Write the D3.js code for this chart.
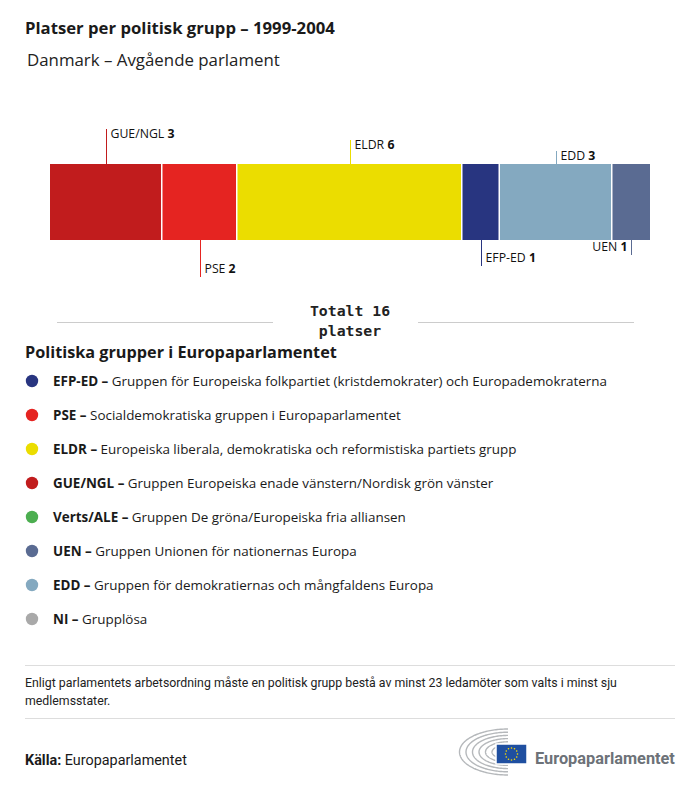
<!DOCTYPE html>
<html><head><meta charset="utf-8">
<script src="https://cdn.jsdelivr.net/npm/d3@7"></script>
<style>
html,body{margin:0;padding:0;background:#fff;}
svg{display:block;font-family:"Open Sans",Lato,sans-serif;}
</style></head>
<body>
<svg id="chart" width="700" height="786"></svg>
<script>
// ---- data ----
const groups = ["GUE/NGL", "PSE", "ELDR", "EFP-ED", "EDD", "UEN"];
const seats = [3, 2, 6, 1, 3, 1];
const groupColors = ["#c11c1d", "#e52421", "#ebdd00", "#283580", "#84a9c0", "#5a6b92"];

const legendCodes = ["EFP-ED", "PSE", "ELDR", "GUE/NGL", "Verts/ALE", "UEN", "EDD", "NI"];
const legendNames = [
  "Gruppen för Europeiska folkpartiet (kristdemokrater) och Europademokraterna",
  "Socialdemokratiska gruppen i Europaparlamentet",
  "Europeiska liberala, demokratiska och reformistiska partiets grupp",
  "Gruppen Europeiska enade vänstern/Nordisk grön vänster",
  "Gruppen De gröna/Europeiska fria alliansen",
  "Gruppen Unionen för nationernas Europa",
  "Gruppen för demokratiernas och mångfaldens Europa",
  "Grupplösa"
];
const legendColors = ["#283580", "#e52421", "#ebdd00", "#c11c1d", "#4cae50", "#5a6b92", "#84a9c0", "#a9a9a9"];

const title = "Platser per politisk grupp – 1999-2004";
const subtitle = "Danmark – Avgående parlament";
const totalLines = ["Totalt 16", "platser"];
const note = ["Enligt parlamentets arbetsordning måste en politisk grupp bestå av minst 23 ledamöter som valts i minst sju", "medlemsstater."];

// ---- drawing ----
const svg = d3.select("#chart");
const total = d3.sum(seats);
const x = d3.scaleLinear().domain([0, total]).range([50, 650]);
const barTop = 164, barBottom = 240;

function fit(sel, w) {
  const n = sel.node();
  const cur = n.getComputedTextLength();
  if (cur > 0) {
    const fs = parseFloat(sel.attr("font-size"));
    sel.attr("font-size", fs * w / cur);
  }
  return sel;
}

fit(svg.append("text").attr("x", 25).attr("y", 34)
  .attr("font-size", 15).attr("font-weight", 700).attr("fill", "#1a1a1a").text(title), 310);
fit(svg.append("text").attr("x", 27).attr("y", 66)
  .attr("font-size", 16).attr("fill", "#222").text(subtitle), 253);

const cum = d3.cumsum(seats);
const starts = seats.map((s, i) => cum[i] - s);

const segs = svg.append("g");
groups.forEach((g, i) => {
  const x0 = x(starts[i]), x1 = x(cum[i]);
  segs.append("rect").attr("x", x0).attr("y", barTop)
    .attr("width", x1 - x0 - (i < groups.length - 1 ? 1.5 : 0))
    .attr("height", barBottom - barTop).attr("fill", groupColors[i]);
});

const labels = svg.append("g").attr("fill", "#111");
let labelSize = 11;
groups.forEach((g, i) => {
  const cx = Math.round(x(starts[i] + seats[i] / 2)) + 0.5;
  const level = Math.floor(i / 2);
  const above = i % 2 === 0;
  const endAnchor = cx > 620;
  let y1, y2, ty;
  if (above) {
    y1 = barTop - 35 + level * 11; y2 = barTop; ty = y1 + 9;
  } else {
    y1 = barBottom; y2 = barBottom + 37 - level * 11; ty = y2 - 4;
  }
  labels.append("line").attr("x1", cx).attr("x2", cx).attr("y1", y1).attr("y2", y2)
    .attr("stroke", groupColors[i]).attr("stroke-width", 1);
  const t = labels.append("text")
    .attr("x", endAnchor ? cx - 4 : cx + 4).attr("y", ty)
    .attr("font-size", labelSize)
    .attr("text-anchor", endAnchor ? "end" : "start");
  t.append("tspan").text(g + " ");
  t.append("tspan").attr("font-weight", 700).text(seats[i]);
  if (i === 0) { fit(t, 64); labelSize = +t.attr("font-size"); }
});

// total
svg.append("line").attr("x1", 57).attr("x2", 273).attr("y1", 322.5).attr("y2", 322.5).attr("stroke", "#ccc");
svg.append("line").attr("x1", 418).attr("x2", 634).attr("y1", 322.5).attr("y2", 322.5).attr("stroke", "#ccc");
totalLines.forEach((l, i) => {
  svg.append("text").attr("x", 350).attr("y", 316 + i * 20).attr("text-anchor", "middle")
    .attr("font-family", "'DejaVu Sans Mono', monospace").attr("font-weight", 700)
    .attr("font-size", 14.8).attr("fill", "#222").text(l);
});

// legend
fit(svg.append("text").attr("x", 25).attr("y", 358).attr("font-size", 16).attr("font-weight", 700)
  .attr("fill", "#1a1a1a").text("Politiska grupper i Europaparlamentet"), 312);
const lg = svg.append("g");
let legendSize = 12.6;
legendCodes.forEach((c, i) => {
  const y = 381 + i * 34;
  lg.append("circle").attr("cx", 32).attr("cy", y).attr("r", 6.2).attr("fill", legendColors[i]);
  const t = lg.append("text").attr("x", 53).attr("y", y + 4.5).attr("font-size", legendSize).attr("fill", "#1a1a1a");
  t.append("tspan").attr("font-weight", 700).text(c + " – ");
  t.append("tspan").text(legendNames[i]);
  if (i === 0) { fit(t, 554); legendSize = +t.attr("font-size"); }
});

// footer
svg.append("line").attr("x1", 25).attr("x2", 675).attr("y1", 665.5).attr("y2", 665.5).attr("stroke", "#ddd");
let noteSize = 11;
note.forEach((l, i) => {
  const t = svg.append("text").attr("x", 25).attr("y", 687 + i * 18).attr("font-size", noteSize)
    .attr("font-family", "Roboto, sans-serif").attr("fill", "#222").text(l);
  if (i === 0) { fit(t, 592); noteSize = +t.attr("font-size"); }
});
svg.append("line").attr("x1", 25).attr("x2", 675).attr("y1", 718.5).attr("y2", 718.5).attr("stroke", "#ddd");
const src = svg.append("text").attr("x", 25).attr("y", 765).attr("font-size", 13).attr("fill", "#1a1a1a")
  .attr("font-family", "Roboto, sans-serif");
src.append("tspan").attr("font-weight", 700).text("Källa: ");
src.append("tspan").text("Europaparlamentet");
fit(src, 162);

// logo
const logo = svg.append("g");
const hc = { x: 508, y: 752 };
for (let k = 0; k < 6; k++) {
  const rx = 16 + k * 6.5, ry = 7 + k * 3.2;
  logo.append("path").attr("d", d3.line()(d3.range(0, 101).map(j => {
    const a = Math.PI / 2 + Math.PI * j / 100; // left half
    return [hc.x + rx * Math.cos(a), hc.y - ry * Math.sin(a)];
  }))).attr("fill", "none").attr("stroke", "#b5b8bb").attr("stroke-width", 1.4);
}
logo.append("rect").attr("x", 496).attr("y", 744).attr("width", 31).attr("height", 20).attr("fill", "#1f4fa0").attr("stroke", "#fff").attr("stroke-width", 1.5);
d3.range(12).forEach(j => {
  const a = j / 12 * 2 * Math.PI;
  logo.append("circle").attr("cx", 511.5 + 6 * Math.cos(a)).attr("cy", 754 + 6 * Math.sin(a)).attr("r", 0.8).attr("fill", "#ffdd00");
});
fit(logo.append("text").attr("x", 535).attr("y", 764).attr("font-size", 16).attr("font-weight", 700)
  .attr("font-family", "Roboto, sans-serif").attr("fill", "#6d7278").text("Europaparlamentet"), 140);
</script>
</body></html>
